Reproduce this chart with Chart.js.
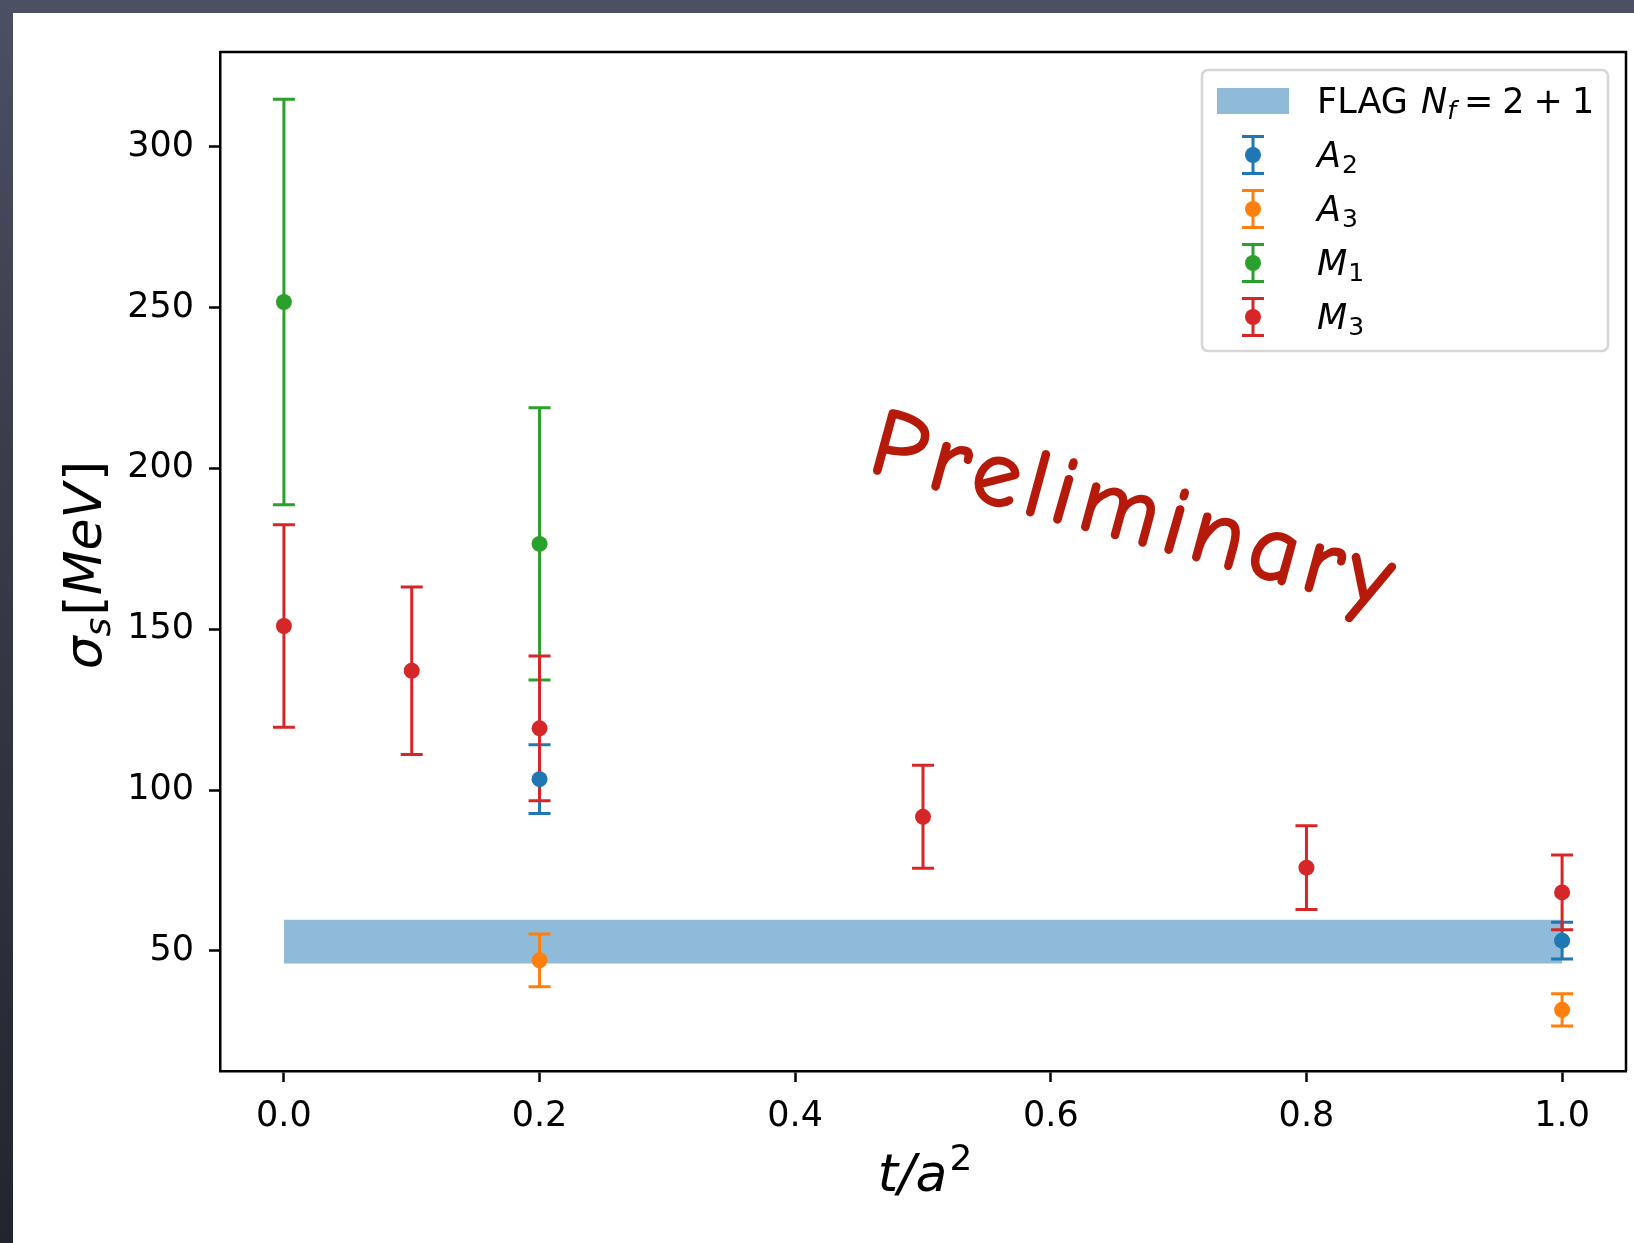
<!DOCTYPE html>
<html><head><meta charset="utf-8">
<script src="https://cdn.jsdelivr.net/npm/chart.js@4.4.0/dist/chart.umd.min.js"></script>
<style>
html,body{margin:0;padding:0;width:1634px;height:1243px;overflow:hidden;
  background:linear-gradient(180deg,#4b5064 0%,#3a3d4c 35%,#23252e 100%);}
#panel{position:absolute;left:13px;top:13px;right:0;bottom:0;background:#ffffff;}
#wrap{position:absolute;left:0;top:0;width:1634px;height:1243px;}
</style></head><body>
<div id="panel"></div>
<div id="wrap"><canvas id="c"></canvas></div>
<script>
// ---- data ----
const xTicks = [0.0, 0.2, 0.4, 0.6, 0.8, 1.0];
const yTicks = [50, 100, 150, 200, 250, 300];

const tA2 = [0.2, 1.0];
const A2 = [103.4, 53.2];
const A2err = [10.7, 5.7];

const tA3 = [0.2, 1.0];
const A3 = [47.1, 31.7];
const A3err = [8.2, 5.0];

const tM1 = [0.0, 0.2];
const M1 = [251.7, 176.5];
const M1err = [63.0, 42.3];

const tM3 = [0.0, 0.1, 0.2, 0.5, 0.8, 1.0];
const M3 = [151.0, 137.1, 119.2, 91.7, 75.9, 68.2];
const M3err = [31.5, 26.0, 22.5, 16.0, 13.0, 11.6];

const flagT = [0.0, 1.0];
const flagCenter = 52.9;
const flagErr = 6.8;

const seriesNames = ['A', 'A', 'M', 'M'];
const seriesSubs = ['2', '3', '1', '3'];
const flagLabel = ['FLAG ', 'N', 'f', '=', '2', '+', '1'];

// ---- styling ----
const C_BLUE = '#1f77b4', C_ORANGE = '#ff7f0e', C_GREEN = '#2ca02c', C_RED = '#d62728';
const FAM = "'DejaVu Sans', sans-serif";

function pts(xs, ys) { return xs.map((x, i) => ({x: x, y: ys[i]})); }

function errDs(label, xs, ys, errs, color) {
  return {
    type: 'scatter', label: label, data: pts(xs, ys), errors: errs,
    borderColor: color, backgroundColor: color,
    pointRadius: 8, pointHoverRadius: 8, pointBorderWidth: 0, showLine: false
  };
}

const errorBarPlugin = {
  id: 'errorBars',
  beforeDatasetsDraw(chart) {
    const ctx = chart.ctx, x = chart.scales.x, y = chart.scales.y;
    chart.data.datasets.forEach(ds => {
      if (!ds.errors) return;
      ctx.save();
      ctx.strokeStyle = ds.borderColor; ctx.lineWidth = 3;
      ds.data.forEach((p, j) => {
        const e = ds.errors[j];
        const px = x.getPixelForValue(p.x);
        const top = y.getPixelForValue(p.y + e), bot = y.getPixelForValue(p.y - e);
        ctx.beginPath();
        ctx.moveTo(px, top); ctx.lineTo(px, bot);
        ctx.moveTo(px - 11, top); ctx.lineTo(px + 11, top);
        ctx.moveTo(px - 11, bot); ctx.lineTo(px + 11, bot);
        ctx.stroke();
      });
      ctx.restore();
    });
  }
};

function drawRuns(ctx, runs, x, y) {
  let cx = x;
  runs.forEach(r => {
    ctx.font = r.font;
    ctx.fillText(r.t, cx, y + (r.dy || 0));
    cx += ctx.measureText(r.t).width + (r.gap || 0);
  });
  return cx;
}
function runsWidth(ctx, runs) {
  let w = 0;
  runs.forEach(r => { ctx.font = r.font; w += ctx.measureText(r.t).width + (r.gap || 0); });
  return w;
}

const decorPlugin = {
  id: 'decor',
  afterDraw(chart) {
    const ctx = chart.ctx, a = chart.chartArea;
    ctx.save();
    // frame (top/right spines)
    ctx.strokeStyle = '#000'; ctx.lineWidth = 2.5;
    ctx.beginPath();
    ctx.moveTo(a.left, a.top); ctx.lineTo(a.right, a.top); ctx.lineTo(a.right, a.bottom);
    ctx.stroke();

    ctx.fillStyle = '#000'; ctx.textBaseline = 'alphabetic'; ctx.textAlign = 'left';
    // x title: t/a^2
    const I52 = 'italic 52px ' + FAM, N52 = '52px ' + FAM, I36 = 'italic 36px ' + FAM, N36 = '36px ' + FAM;
    const xr = [{t: 't', font: I52}, {t: '/', font: I52}, {t: 'a', font: I52, gap: 2}, {t: '2', font: N36, dy: -21}];
    const xw = runsWidth(ctx, xr);
    drawRuns(ctx, xr, (a.left + a.right) / 2 - xw / 2 + 2, 1191);
    // y title: sigma_s [MeV]
    const yr = [{t: 'σ', font: I52}, {t: 's', font: I36, dy: 9, gap: 2}, {t: '[', font: N52}, {t: 'MeV', font: I52, gap: 2}, {t: ']', font: N52}];
    const yw = runsWidth(ctx, yr);
    ctx.save();
    ctx.translate(101, 565);
    ctx.rotate(-Math.PI / 2);
    drawRuns(ctx, yr, -yw / 2, 0);
    ctx.restore();

    // Preliminary watermark
    ctx.save();
    ctx.translate(866, 470);
    ctx.rotate(15.2 * Math.PI / 180);
    ctx.fillStyle = '#b51a0a'; ctx.strokeStyle = '#b51a0a';
    ctx.lineWidth = 2.5; ctx.lineJoin = 'round';
    ctx.font = "96px 'Comic Sans MS', 'Comic Neue', 'Humor Sans', " + FAM;
    try { ctx.letterSpacing = '7px'; } catch (e) {}
    ctx.fillText('Preliminary', 0, 0);
    ctx.strokeText('Preliminary', 0, 0);
    ctx.restore();

    // legend
    const bx = a.right - 18 - 406, by = a.top + 18, bw = 406, bh = 281;
    ctx.fillStyle = 'rgba(255,255,255,0.85)';
    ctx.strokeStyle = '#d6d6d6'; ctx.lineWidth = 2.5;
    ctx.beginPath();
    if (ctx.roundRect) ctx.roundRect(bx, by, bw, bh, 6); else ctx.rect(bx, by, bw, bh);
    ctx.fill(); ctx.stroke();

    const hx = bx + 51, tx = bx + 115;
    const I35 = 'italic 35px ' + FAM, N35 = '35px ' + FAM, N25 = '25px ' + FAM, I25 = 'italic 25px ' + FAM;
    // FLAG row
    let cy = by + 31;
    ctx.fillStyle = 'rgba(31,119,180,0.5)';
    ctx.fillRect(bx + 15, cy - 13, 72, 26);
    ctx.fillStyle = '#000';
    drawRuns(ctx, [
      {t: flagLabel[0], font: N35, gap: 2}, {t: flagLabel[1], font: I35}, {t: flagLabel[2], font: I25, dy: 6, gap: 8},
      {t: flagLabel[3], font: N35, gap: 9}, {t: flagLabel[4], font: N35, gap: 9}, {t: flagLabel[5], font: N35, gap: 9},
      {t: flagLabel[6], font: N35}
    ], tx, cy + 12);
    const cols = [C_BLUE, C_ORANGE, C_GREEN, C_RED];
    for (let i = 0; i < 4; i++) {
      cy = by + 85 + i * 54;
      ctx.strokeStyle = cols[i]; ctx.lineWidth = 3;
      ctx.beginPath();
      ctx.moveTo(hx, cy - 18.5); ctx.lineTo(hx, cy + 18.5);
      ctx.moveTo(hx - 11, cy - 18.5); ctx.lineTo(hx + 11, cy - 18.5);
      ctx.moveTo(hx - 11, cy + 18.5); ctx.lineTo(hx + 11, cy + 18.5);
      ctx.stroke();
      ctx.fillStyle = cols[i];
      ctx.beginPath(); ctx.arc(hx, cy, 8, 0, Math.PI * 2); ctx.fill();
      ctx.fillStyle = '#000';
      drawRuns(ctx, [{t: seriesNames[i], font: I35, gap: 1}, {t: seriesSubs[i], font: N25, dy: 6}], tx, cy + 12);
    }
    ctx.restore();
  }
};

const flagData = flagT.map(t => ({x: t, y: flagCenter + flagErr}));

new Chart(document.getElementById('c'), {
  type: 'scatter',
  data: {
    datasets: [
      errDs('A2', tA2, A2, A2err, C_BLUE),
      errDs('A3', tA3, A3, A3err, C_ORANGE),
      errDs('M1', tM1, M1, M1err, C_GREEN),
      errDs('M3', tM3, M3, M3err, C_RED),
      {
        type: 'line', label: 'FLAG', data: flagData,
        borderWidth: 0, borderColor: 'rgba(31,119,180,0)', pointRadius: 0, pointHoverRadius: 0,
        backgroundColor: 'rgba(31,119,180,0.5)',
        fill: {value: flagCenter - flagErr}
      }
    ]
  },
  options: {
    responsive: true, maintainAspectRatio: false, animation: false, devicePixelRatio: 1,
    events: [],
    layout: {padding: {left: 0, right: 7, top: 52, bottom: 0}},
    plugins: {
      legend: {display: false}, tooltip: {enabled: false},
      filler: {drawTime: 'beforeDatasetsDraw'}
    },
    scales: {
      x: {
        type: 'linear', min: -0.05, max: 1.05,
        afterBuildTicks: s => { s.ticks = xTicks.map(v => ({value: v})); },
        afterFit: s => { s.height = 172; },
        ticks: {autoSkip: false, maxRotation: 0, padding: 14, color: '#000',
          font: {family: 'DejaVu Sans', size: 35}, callback: v => Number(v).toFixed(1)},
        grid: {drawOnChartArea: false, drawTicks: true, tickLength: 11, tickWidth: 2.5, tickColor: '#000'},
        border: {display: true, color: '#000', width: 2.5},
        title: {display: false}
      },
      y: {
        type: 'linear', min: 12.7, max: 329.4,
        afterBuildTicks: s => { s.ticks = yTicks.map(v => ({value: v})); },
        afterFit: s => { s.width = 220; },
        ticks: {autoSkip: false, padding: 15, color: '#000',
          font: {family: 'DejaVu Sans', size: 35}, callback: v => String(v)},
        grid: {drawOnChartArea: false, drawTicks: true, tickLength: 11, tickWidth: 2.5, tickColor: '#000'},
        border: {display: true, color: '#000', width: 2.5},
        title: {display: false}
      }
    }
  },
  plugins: [errorBarPlugin, decorPlugin]
});
</script>
</body></html>
